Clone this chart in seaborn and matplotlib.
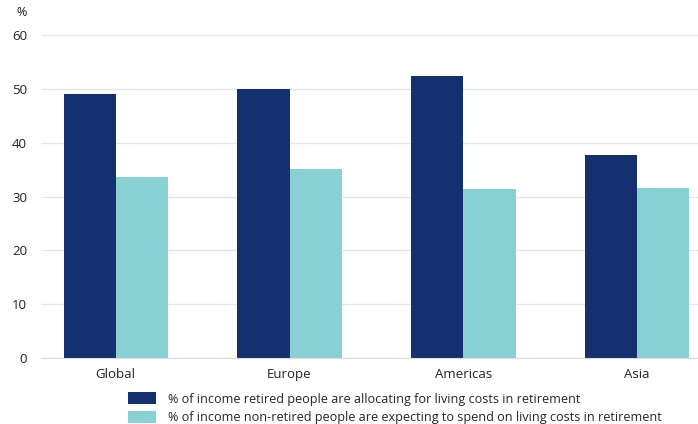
import pandas as pd
import matplotlib
matplotlib.use('Agg')
import matplotlib.pyplot as plt
import seaborn as sns

regions = ['Global', 'Europe', 'Americas', 'Asia']
retired = [49.0, 50.0, 52.4, 37.8]
non_retired = [33.6, 35.2, 31.4, 31.6]
series_names = [
    '% of income retired people are allocating for living costs in retirement',
    '% of income non-retired people are expecting to spend on living costs in retirement',
]
yticks = [0, 10, 20, 30, 40, 50, 60]

df = pd.DataFrame({
    'region': regions * 2,
    'value': retired + non_retired,
    'series': [series_names[0]] * 4 + [series_names[1]] * 4,
})

sns.set_style('white')
plt.rcParams['font.family'] = ['Open Sans', 'DejaVu Sans']

fig = plt.figure(figsize=(6.98, 4.24), dpi=100)
ax = fig.add_axes([41 / 698, 1 - 358 / 424, 1 - 41 / 698, (358 - 35) / 424])

sns.barplot(data=df, x='region', y='value', hue='series', hue_order=series_names,
            palette=['#15306e', '#89d0d5'], width=0.6, saturation=1,
            linewidth=0, ax=ax)

ax.set_ylim(0, 60)
ax.set_xlim(-0.43, 3.35)
ax.set_yticks(yticks)
ax.yaxis.grid(True, color='#e6e6e6', linewidth=1)
ax.set_axisbelow(True)
for s in ['top', 'right', 'left']:
    ax.spines[s].set_visible(False)
ax.spines['bottom'].set_color('#dcdcdc')
ax.tick_params(axis='both', length=0, labelsize=9.5, colors='#222222')
ax.tick_params(axis='y', pad=10)
ax.tick_params(axis='x', pad=7)
ax.set_xlabel('')
ax.set_ylabel('')
fig.text(16 / 698, 1 - 12 / 424, '%', fontsize=9, color='#222222', va='center', ha='left')

handles, labels = ax.get_legend_handles_labels()
ax.get_legend().remove()
fig.legend(handles, labels, loc='upper left', bbox_to_anchor=(122 / 698, 1 - 386 / 424),
           frameon=False, fontsize=9.1, handlelength=2.2, handleheight=1.1,
           handletextpad=0.95, labelspacing=0.4, borderpad=0)

fig.savefig('out.png', dpi=100)
